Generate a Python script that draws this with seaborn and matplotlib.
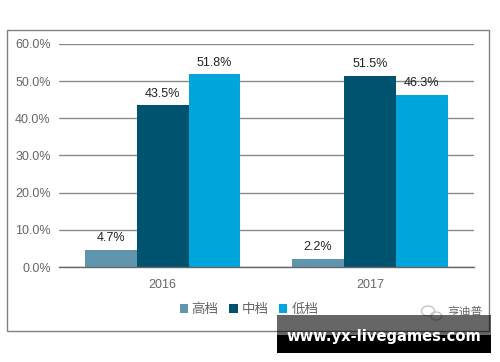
import seaborn as sns
import matplotlib.pyplot as plt
import pandas as pd
from matplotlib.patches import Rectangle, Ellipse

years = ["2016", "2017"]
tiers = ["高档", "中档", "低档"]
high = [4.7, 2.2]
mid = [43.5, 51.5]
low = [51.8, 46.3]
y_ticks = [0, 10, 20, 30, 40, 50, 60]

colors = ["#5f94ad", "#00536f", "#00a5dc"]
W, H = 500, 362

sns.set_theme(style="white")
plt.rcParams["font.family"] = ["Liberation Sans", "Noto Sans CJK SC", "DejaVu Sans"]

df = pd.DataFrame({
    "year": years * 3,
    "tier": [t for t in tiers for _ in years],
    "share": high + mid + low,
})

fig = plt.figure(figsize=(W / 100, H / 100), dpi=100)
ax = fig.add_axes([59 / W, 1 - 267 / H, 414.5 / W, 223 / H])

sns.barplot(data=df, x="year", y="share", hue="tier", hue_order=tiers,
            palette=colors, width=0.75, saturation=1, errorbar=None,
            linewidth=0, ax=ax)

ax.set_ylim(0, 60)
ax.set_yticks(y_ticks)
ax.set_yticklabels([f"{v:.1f}%" for v in y_ticks], fontsize=9, color="#666666")
ax.tick_params(axis="x", labelsize=9, labelcolor="#666666", pad=9, length=0)
ax.tick_params(axis="y", pad=6, length=0)
ax.set_xlabel("")
ax.set_ylabel("")
ax.grid(axis="y", color="#8a8a8a", linewidth=1)
ax.set_axisbelow(True)
for s in ["top", "right", "left"]:
    ax.spines[s].set_visible(False)
ax.spines["bottom"].set_color("#666666")
ax.spines["bottom"].set_linewidth(1)

# Etykiety nad slupkami
for c in ax.containers:
    ax.bar_label(c, labels=[f"{v:.1f}%" for v in c.datavalues], padding=4,
                 fontsize=9, color="#222222")

# Legenda
handles, labels = ax.get_legend_handles_labels()
ax.legend(handles, labels, loc="center", bbox_to_anchor=(249 / W, 1 - 310 / H),
          bbox_transform=fig.transFigure, ncol=3, frameon=False, fontsize=9.7,
          labelcolor="#666666", handlelength=0.6, handleheight=0.6,
          handletextpad=0.3, columnspacing=0.8, borderpad=0)

# Ramka wykresu
fig.add_artist(Rectangle((6.5 / W, 1 - 330.5 / H), 482 / W, 301 / H,
                         transform=fig.transFigure, fill=False,
                         edgecolor="#808080", linewidth=1))

# Znak wodny
for cx, cy, w_px in [(428, 311, 13), (436, 316, 11)]:
    fig.add_artist(Ellipse((cx / W, 1 - cy / H), w_px / W, (w_px - 3) / H,
                           transform=fig.transFigure, fill=False,
                           edgecolor="#c4c4c4", linewidth=1))
fig.text(465 / W, 1 - 313 / H, "亨迪普", fontsize=8.5, color="#666666", ha="center", va="center")
fig.add_artist(Rectangle((277 / W, 1 - 335 / H), 214 / W, 20 / H,
                         transform=fig.transFigure, color="#000000", alpha=0.6, linewidth=0))
fig.add_artist(Rectangle((277 / W, 1 - 353 / H), 214 / W, 18 / H,
                         transform=fig.transFigure, color="#000000", linewidth=0))
fig.text(383.5 / W, 1 - 336.5 / H, "www.yx-livegames.com", fontsize=10.6, color="white",
         fontweight="bold", family="DejaVu Sans", ha="center", va="center")

fig.savefig("out.png", dpi=100)
